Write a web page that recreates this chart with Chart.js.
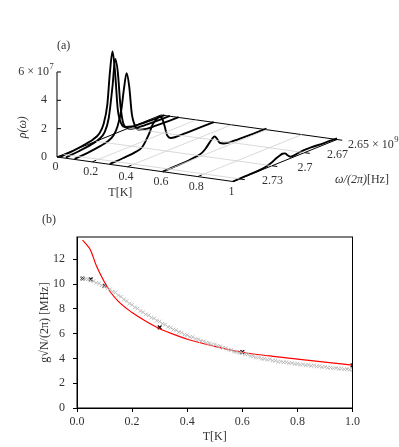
<!DOCTYPE html>
<html><head><meta charset="utf-8">
<script src="https://cdn.jsdelivr.net/npm/chart.js@4.4.1/dist/chart.umd.min.js"></script>
<style>
html,body{margin:0;padding:0;background:#fff;}
#wrap{position:relative;width:399px;height:447px;overflow:hidden;background:#fff;}
#ca{position:absolute;left:0;top:0;width:399px;height:205px;}
#cb{position:absolute;left:0;top:205px;width:399px;height:242px;}
.lbl{position:absolute;font-family:"Liberation Serif",serif;font-size:12px;color:#333;line-height:14px;}
</style></head><body>
<div id="wrap">
  <div id="ca"><canvas id="a"></canvas></div>
  <div id="cb"><canvas id="b"></canvas></div>
  <div class="lbl" style="left:57px;top:38px">(a)</div>
  <div class="lbl" style="left:42px;top:212px">(b)</div>
</div>
<script>
// ---------- panel (a) data: spectra rho(omega) at several temperatures ----------
const tempsA = [0.02, 0.05, 0.1, 0.3, 0.6, 1.0];                       // T [K]
const omegaA = [2.73, 2.72, 2.71, 2.705, 2.70, 2.697, 2.694, 2.692, 2.690,
                2.688, 2.686, 2.683, 2.68, 2.675, 2.67, 2.66, 2.65];      // omega/2pi [x1e9 Hz]
const rhoT002 = [0.05,0.12,0.25,0.35,0.6,1.1,2.4,4.6,6.0,4.4,1.8,0.6,0.3,0.15,0.1,0.05,0.02]; // x1e7
const rhoT005 = [0.05,0.12,0.25,0.38,0.75,1.6,3.8,5.6,4.6,2.2,0.9,0.4,0.22,0.12,0.08,0.04,0.02];
const rhoT010 = [0.04,0.1,0.22,0.32,0.6,1.1,2.2,3.6,4.6,3.6,1.6,0.55,0.25,0.12,0.08,0.04,0.02];
const rhoT030 = [0.02,0.06,0.14,0.3,1.0,1.6,1.85,1.95,1.8,1.2,0.45,0.12,0.06,0.05,0.04,0.03,0.02];
const rhoT060 = [0.0,0.02,0.05,0.1,0.2,0.4,0.7,0.9,1.0,0.75,0.4,0.25,0.18,0.15,0.13,0.1,0.08];
const rhoT100 = [0.0,0.02,0.05,0.1,0.25,0.4,0.5,0.55,0.5,0.3,0.12,0.1,0.15,0.2,0.18,0.12,0.08];
const spectraA = [rhoT002, rhoT005, rhoT010, rhoT030, rhoT060, rhoT100];
const rhoTicks = [0, 2, 4, 6];
const tTicksA = [0, 0.2, 0.4, 0.6, 0.8, 1];
const tTickLabelsA = ['0', '0.2', '0.4', '0.6', '0.8', '1'];
const omegaTicks = [2.65, 2.675, 2.7, 2.725];
const omegaTickLabels = ['2.65', '2.67', '2.7', '2.73'];

// ---------- panel (b) data ----------
const redT = [0.02,0.04,0.05,0.07,0.1,0.12,0.15,0.2,0.25,0.3,0.35,0.4,0.5,0.6,0.7,0.8,0.9,1.0];
const redV = [13.55,13.05,12.7,11.5,10.15,9.4,8.6,7.7,7.0,6.4,5.95,5.55,4.98,4.5,4.2,3.95,3.7,3.46];
const grayT = [0.02,0.03,0.04,0.05,0.06,0.07,0.08,0.09,0.10,0.11,0.12,0.13,0.14,0.15,0.16,0.17,0.18,0.19,0.20,
               0.21,0.22,0.23,0.24,0.25,0.26,0.27,0.28,0.29,0.30,0.31,0.32,0.33,0.34,0.35,0.36,0.37,0.38,0.39,0.40,
               0.41,0.42,0.43,0.44,0.45,0.46,0.47,0.48,0.49,0.50,0.51,0.52,0.53,0.54,0.55,0.56,0.57,0.58,0.59,0.60,
               0.61,0.62,0.63,0.64,0.65,0.66,0.67,0.68,0.69,0.70,0.71,0.72,0.73,0.74,0.75,0.76,0.77,0.78,0.79,0.80,
               0.81,0.82,0.83,0.84,0.85,0.86,0.87,0.88,0.89,0.90,0.91,0.92,0.93,0.94,0.95,0.96,0.97,0.98,0.99,1.00];
const grayV = [10.45,10.40,10.38,10.28,10.24,10.10,10.05,9.90,9.82,9.66,9.58,9.40,9.33,9.10,8.98,8.76,8.63,8.43,8.33,
               8.12,8.03,7.83,7.73,7.55,7.48,7.30,7.23,7.05,6.98,6.80,6.73,6.55,6.48,6.33,6.28,6.12,6.08,5.92,5.88,
               5.75,5.73,5.57,5.53,5.40,5.38,5.25,5.23,5.12,5.13,5.00,4.98,4.85,4.83,4.70,4.68,4.55,4.53,4.43,4.42,
               4.33,4.32,4.20,4.18,4.08,4.07,3.98,3.97,3.90,3.93,3.83,3.82,3.74,3.75,3.68,3.70,3.62,3.63,3.55,3.57,
               3.50,3.52,3.45,3.47,3.40,3.43,3.35,3.37,3.30,3.33,3.25,3.27,3.20,3.22,3.16,3.19,3.12,3.14,3.09,3.08];
const blackT = [0.02, 0.05, 0.1, 0.3, 0.6, 1.0];
const blackV = [10.45, 10.38, 9.85, 6.5, 4.52, 3.44];
const xTicksB = [0, 0.2, 0.4, 0.6, 0.8, 1.0];
const yTicksB = [0, 2, 4, 6, 8, 10, 12];

// ---------- view (projection of the 3-D box onto panel (a)) ----------
const view = {ox:57, oy:157, tx:176, ty:24.5, wx:104, wy:-42, zy:-14.17, wMax:2.73, wMin:2.65, tMax:1, zMax:6};
function proj(T, w, r){
  const p = (view.wMax - w) / (view.wMax - view.wMin);
  return {x: view.ox + T*view.tx + p*view.wx, y: view.oy + T*view.ty + p*view.wy + r*view.zy};
}
const FONT = '"Liberation Serif", serif';
const TXT = '#333';

function lineDS(pts, color, width, extra){
  return Object.assign({data: pts, showLine:true, pointRadius:0, borderColor:color, borderWidth:width, fill:false}, extra||{});
}
const dsA = [];
// floor grid
tTicksA.filter(t => t > 0 && t < 1).forEach(t => dsA.push(lineDS([proj(t, view.wMax, 0), proj(t, view.wMin, 0)], '#cfcfcf', 0.8)));
omegaTicks.filter(w => w > view.wMin && w < view.wMax).forEach(w => dsA.push(lineDS([proj(0, w, 0), proj(view.tMax, w, 0)], '#cfcfcf', 0.8)));
// floor border
dsA.push(lineDS([proj(0, view.wMax, 0), proj(view.tMax, view.wMax, 0), proj(view.tMax, view.wMin, 0), proj(0, view.wMin, 0), proj(0, view.wMax, 0)], '#000', 1));
// vertical rho axis
dsA.push(lineDS([proj(0, view.wMax, 0), proj(0, view.wMax, view.zMax)], '#000', 1));
// spectra
spectraA.forEach((arr, k) => {
  dsA.push(lineDS(omegaA.map((w, i) => proj(tempsA[k], w, arr[i])), '#000', 1.9, {cubicInterpolationMode:'monotone'}));
});

const labelsA = {
  id:'labelsA',
  afterDatasetsDraw(chart){
    const {ctx, scales:{x, y}} = chart;
    const P = (T, w, r) => { const q = proj(T, w, r); return [x.getPixelForValue(q.x), y.getPixelForValue(q.y)]; };
    ctx.save();
    ctx.strokeStyle = '#000'; ctx.lineWidth = 1;
    rhoTicks.forEach(r => { const [px, py] = P(0, view.wMax, r); ctx.beginPath(); ctx.moveTo(px, py); ctx.lineTo(px + 4, py); ctx.stroke(); });
    tTicksA.forEach(t => { const [a1, b1] = P(t, view.wMax, 0); const [a2, b2] = P(t, view.wMax - 0.003, 0); ctx.beginPath(); ctx.moveTo(a1, b1); ctx.lineTo(a2, b2); ctx.stroke(); });
    omegaTicks.forEach(w => { const [a1, b1] = P(view.tMax, w, 0); const [a2, b2] = P(view.tMax + 0.03, w, 0); ctx.beginPath(); ctx.moveTo(a1, b1); ctx.lineTo(a2, b2); ctx.stroke(); });

    ctx.fillStyle = TXT;
    ctx.font = '12px ' + FONT;
    ctx.textBaseline = 'middle';
    ctx.textAlign = 'right';
    rhoTicks.forEach(r => {
      const [px, py] = P(0, view.wMax, r);
      if (r === view.zMax) {
        ctx.fillText('6 × 10', px - 8, py);
        ctx.font = '8.5px ' + FONT; ctx.textAlign = 'left';
        ctx.fillText('7', px - 7.5, py - 5);
        ctx.font = '12px ' + FONT; ctx.textAlign = 'right';
      } else {
        ctx.fillText(String(r), px - 10, py);
      }
    });
    ctx.textAlign = 'center';
    tTicksA.forEach((t, i) => { const [px, py] = P(t, view.wMax, 0); ctx.fillText(tTickLabelsA[i], px - 1.5, py + 10); });
    omegaTicks.forEach((w, i) => {
      const [px, py] = P(view.tMax, w, 0);
      if (i === 0) {
        ctx.textAlign = 'left';
        ctx.fillText(omegaTickLabels[i] + ' × 10', px + 11, py + 5);
        const wd = ctx.measureText(omegaTickLabels[i] + ' × 10').width;
        ctx.font = '8.5px ' + FONT;
        ctx.fillText('9', px + 11 + wd + 0.5, py);
        ctx.font = '12px ' + FONT;
        ctx.textAlign = 'center';
      } else {
        ctx.fillText(omegaTickLabels[i], px + 33, py + 2);
      }
    });
    let [qx, qy] = P(0.36, view.wMax, 0);
    ctx.fillText('T[K]', qx, qy + 27);
    [qx, qy] = P(view.tMax, 2.69, 0);
    ctx.font = 'italic 12px ' + FONT;
    ctx.fillText('ω/(2π)', qx + 66, qy + 19.5);
    const w1 = ctx.measureText('ω/(2π)').width;
    ctx.font = '12px ' + FONT; ctx.textAlign = 'left';
    ctx.fillText('[Hz]', qx + 66 + w1 / 2, qy + 19.5);
    [qx, qy] = P(0, view.wMax, 2.1);
    ctx.translate(qx - 34, qy);
    ctx.rotate(-Math.PI / 2);
    ctx.textAlign = 'center';
    ctx.font = 'italic 12px ' + FONT;
    ctx.fillText('ρ(ω)', 0, 0);
    ctx.restore();
  }
};

new Chart(document.getElementById('a'), {
  type:'scatter',
  data:{datasets: dsA},
  options:{
    animation:false, responsive:true, maintainAspectRatio:false, devicePixelRatio:1,
    layout:{padding:0},
    plugins:{legend:{display:false}, tooltip:{enabled:false}},
    scales:{
      x:{type:'linear', display:false, min:0, max:399},
      y:{type:'linear', display:false, min:0, max:205, reverse:true}
    }
  },
  plugins:[labelsA]
});

// ---------- panel (b) ----------
const frameB = {
  id:'frameB',
  afterDatasetsDraw(chart){
    const {ctx, chartArea:a} = chart;
    ctx.save(); ctx.strokeStyle = '#000'; ctx.lineWidth = 1;
    ctx.strokeRect(a.left, a.top, a.right - a.left, a.bottom - a.top);
    ctx.restore();
  }
};
const tickFont = {family:'"Liberation Serif", serif', size:12};
new Chart(document.getElementById('b'), {
  type:'scatter',
  data:{datasets:[
    {label:'simulation', data: grayT.map((t, i) => ({x:t, y:grayV[i]})), pointStyle:'crossRot', pointRadius:2.6,
     borderColor:'#bdbdbd', backgroundColor:'#bdbdbd', borderWidth:1, showLine:false},
    {label:'theory', data: redT.map((t, i) => ({x:t, y:redV[i]})), showLine:true, pointRadius:0,
     borderColor:'#ff0000', borderWidth:1.2, cubicInterpolationMode:'monotone', fill:false},
    {label:'measured', data: blackT.map((t, i) => ({x:t, y:blackV[i]})), pointStyle:'crossRot', pointRadius:2.6,
     borderColor:'#111', backgroundColor:'#111', borderWidth:1.4, showLine:false}
  ]},
  options:{
    animation:false, responsive:true, maintainAspectRatio:false, devicePixelRatio:1,
    layout:{padding:{top:32, right:46.5, left:0, bottom:0}},
    plugins:{legend:{display:false}, tooltip:{enabled:false}},
    scales:{
      x:{type:'linear', min:0, max:1,
         afterBuildTicks:s => { s.ticks = xTicksB.map(v => ({value:v})); },
         afterFit:s => { s.height = 39; },
         ticks:{callback:v => Number(v).toFixed(1), font:tickFont, color:TXT, padding:3, maxRotation:0, autoSkip:false},
         grid:{drawOnChartArea:false, tickLength:4, color:'#000'},
         border:{color:'#000', width:1},
         title:{display:true, text:'T[K]', font:tickFont, color:TXT, padding:{top:0, bottom:3}}},
      y:{type:'linear', min:0, max:13.8,
         afterBuildTicks:s => { s.ticks = yTicksB.map(v => ({value:v})); },
         afterFit:s => { s.width = 77; },
         ticks:{font:tickFont, color:TXT, padding:8, autoSkip:false},
         grid:{drawOnChartArea:false, tickLength:4, color:'#000'},
         border:{color:'#000', width:1},
         title:{display:true, text:'g√N/(2π) [MHz]', font:tickFont, color:TXT, padding:{top:38, bottom:0}}}
    }
  },
  plugins:[frameB]
});
</script>
</body></html>
